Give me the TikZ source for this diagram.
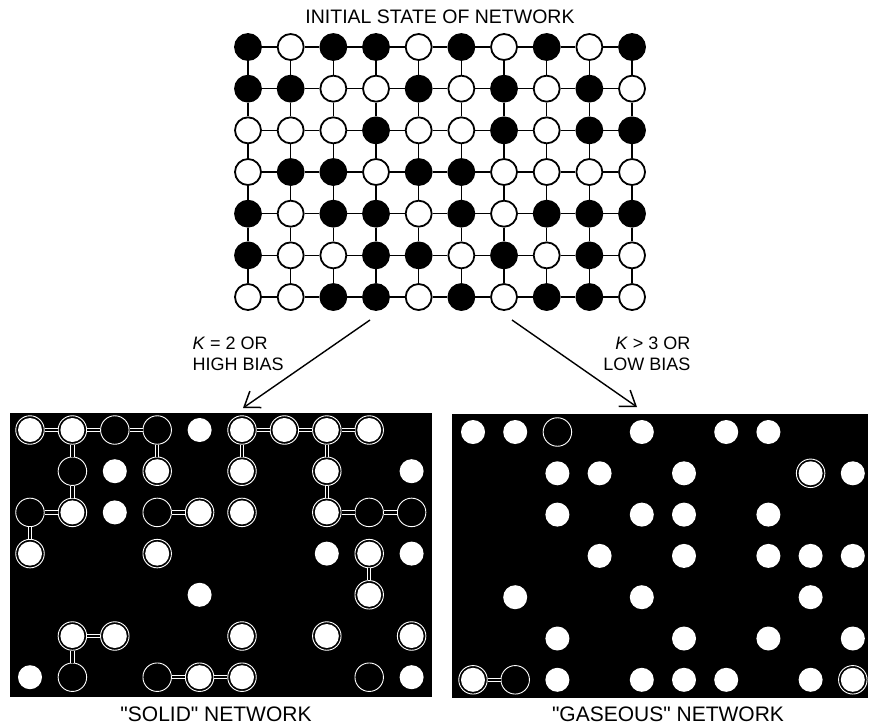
\documentclass[tikz,border=0pt]{standalone}
\usepackage{fontspec}
\setmainfont{Liberation Sans}
\usetikzlibrary{arrows.meta}

\tikzset{
  cellW/.style={circle,draw,line width=1.8pt,fill=white,minimum size=26pt,inner sep=0pt},
  cellB/.style={cellW,fill=black},
  dotW/.style={circle,fill=white,minimum size=24pt,inner sep=0pt},
  dotG/.style={circle,draw=white,line width=0.9pt,fill=black,minimum size=28.5pt,inner sep=0pt},
  dotR/.style={dotG,path picture={\fill[white] (path picture bounding box.center) circle (12pt);}},
  bond/.style={draw=white,double=black,double distance=2.4pt,line width=1pt},
  flow/.style={-{Straight Barb[length=14pt,width=20pt,line width=1.5pt]},line width=1.4pt},
  wire/.style={line width=1.6pt},
}

\begin{document}
\begin{tikzpicture}[x=1pt,y=-1pt]
\useasboundingbox (0,0) rectangle (869,726);

\node[font=\fontsize{19.5}{22}\selectfont] (title) at (440,17) {INITIAL STATE OF NETWORK};

% initial network
\foreach \row [count=\r] in {{B,W,B,B,W,B,W,B,W,B},{B,B,W,W,B,W,B,W,B,W},{W,W,W,B,W,W,B,W,B,B},{W,B,B,W,B,B,W,W,W,W},{B,W,B,B,W,B,W,B,B,B},{B,W,W,B,B,W,B,W,B,W},{W,W,B,B,W,B,W,B,B,W}}
  \foreach \f [count=\c] in \row
    \node[cell\f] (t-\c-\r) at ({248+42.67*(\c-1)},{47+41.67*(\r-1)}) {};
\foreach \r in {1,...,7}
  \foreach \c in {1,...,9} {
    \pgfmathtruncatemacro{\nx}{\c+1}
    \draw[wire] (t-\c-\r) -- (t-\nx-\r);
  }
\foreach \c in {1,...,10}
  \foreach \r in {1,...,6} {
    \pgfmathtruncatemacro{\ny}{\r+1}
    \draw[wire] (t-\c-\r) -- (t-\c-\ny);
  }

% arrows and conditions
\coordinate (split-l) at (370,320);
\coordinate (split-r) at (512,320);
\coordinate (solid-in) at (243,408);
\coordinate (gas-in) at (637,407);
\draw[flow] (split-l) -- (solid-in);
\draw[flow] (split-r) -- (gas-in);
\node[font=\fontsize{18}{21}\selectfont,align=left,anchor=west] (k-two) at (189,354) {\textit{K} = 2 OR\\HIGH BIAS};
\node[font=\fontsize{18}{21}\selectfont,align=right,anchor=east] (k-three) at (694,354) {\textit{K} > 3 OR\\LOW BIAS};

% solid network
\fill (10,413) rectangle (432,697);
\foreach \c/\r in {5/1,3/2,10/2,3/3,8/4,10/4,5/5,1/7,10/7}
  \node[dotW] (s-\c-\r) at ({30+42.4*(\c-1)},{430+41.2*(\r-1)}) {};
\foreach \c/\r in {1/1,2/1,6/1,7/1,8/1,9/1,4/2,6/2,8/2,2/3,5/3,6/3,8/3,1/4,4/4,9/4,9/5,2/6,3/6,6/6,8/6,10/6,5/7,6/7}
  \node[dotR] (s-\c-\r) at ({30+42.4*(\c-1)},{430+41.2*(\r-1)}) {};
\foreach \c/\r in {3/1,4/1,2/2,1/3,4/3,9/3,10/3,2/7,4/7,9/7}
  \node[dotG] (s-\c-\r) at ({30+42.4*(\c-1)},{430+41.2*(\r-1)}) {};
\foreach \a/\b in {1-1/2-1,2-1/3-1,3-1/4-1,6-1/7-1,7-1/8-1,8-1/9-1,1-3/2-3,4-3/5-3,8-3/9-3,9-3/10-3,2-6/3-6,4-7/5-7,5-7/6-7,
                   2-1/2-2,4-1/4-2,6-1/6-2,8-1/8-2,2-2/2-3,8-2/8-3,1-3/1-4,9-4/9-5,2-6/2-7}
  \draw[bond] (s-\a) -- (s-\b);
\node[font=\fontsize{21}{24}\selectfont] (solid) at (216,714) {\textquotedbl SOLID\textquotedbl\ NETWORK};

% gaseous network
\fill (452,414) rectangle (868,698);
\foreach \c/\r in {1/1,2/1,5/1,7/1,8/1,3/2,4/2,6/2,10/2,3/3,5/3,6/3,8/3,4/4,6/4,8/4,9/4,10/4,2/5,5/5,9/5,3/6,6/6,8/6,10/6,3/7,5/7,6/7,7/7,9/7}
  \node[dotW] (g-\c-\r) at ({473+42.2*(\c-1)},{432+41.3*(\r-1)}) {};
\foreach \c/\r in {9/2,1/7,10/7}
  \node[dotR] (g-\c-\r) at ({473+42.2*(\c-1)},{432+41.3*(\r-1)}) {};
\foreach \c/\r in {3/1,2/7}
  \node[dotG] (g-\c-\r) at ({473+42.2*(\c-1)},{432+41.3*(\r-1)}) {};
\draw[bond] (g-1-7) -- (g-2-7);
\node[font=\fontsize{21}{24}\selectfont] (gas) at (668,714) {\textquotedbl GASEOUS\textquotedbl\ NETWORK};
\end{tikzpicture}
\end{document}
